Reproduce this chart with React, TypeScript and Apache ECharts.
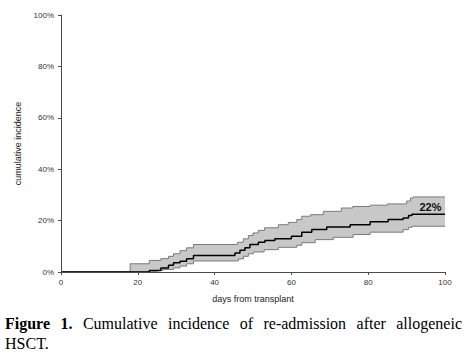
import React, { useEffect, useRef } from "react";
import * as echarts from "echarts";

const xTicks = [0, 20, 40, 60, 80, 100];
const upperDays = [0, 18, 23, 26, 28, 29.3, 31, 32.7, 34.5, 46, 47.5, 48.8, 50, 51.4, 53, 56.6, 59.2, 61.4, 62.7, 65, 68.3, 73, 76, 80.5, 85, 90, 91, 91.7, 100];
const upperPct = [0, 3.2, 4.5, 5.2, 6.1, 7.1, 8.3, 9.4, 10.7, 11.6, 12.9, 14.2, 15.2, 16.2, 17.2, 18.4, 19.3, 20.4, 21.7, 22.3, 23.6, 24.9, 25.5, 26.0, 26.5, 27.6, 28.8, 29.2, 29.2];
const mainDays = [0, 23, 26, 28, 29.3, 31, 32.7, 34.5, 45.3, 46.6, 47.9, 49.2, 51.4, 53.1, 55.7, 60, 62.7, 65.3, 69.2, 75.3, 80.5, 85.2, 89.1, 90.5, 91.4, 100];
const mainPct = [0, 0.6, 1.6, 2.6, 3.6, 4.2, 5.2, 6.4, 7.4, 8.5, 9.4, 10.7, 11.6, 12.3, 12.9, 13.9, 15.5, 16.5, 17.5, 18.4, 19.6, 20.4, 21.0, 22.0, 22.5, 22.5];
const lowerDays = [0, 25, 26.5, 29.3, 31, 32.7, 34.5, 46.2, 47.5, 48.8, 50.1, 52.9, 56.6, 61.4, 62.7, 66.2, 70.9, 76.1, 80.5, 89.1, 90.5, 91.4, 100];
const lowerPct = [0, 0.6, 1.0, 1.6, 2.3, 3.2, 4.3, 5.1, 6.1, 7.1, 7.8, 8.7, 9.6, 10.4, 11.4, 12.6, 13.5, 14.6, 15.5, 16.5, 17.4, 17.8, 17.8];
const endLabel = "22%";
const endLabelAt = [96.2, 25.3];
const captionBold = "Figure 1.";
const captionLine1 = "Cumulative incidence of re-admission after allogeneic";
const captionLine2 = "HSCT.";

const zip = (xs: number[], ys: number[]) => xs.map((x, i) => [x, ys[i]]);

export default function App() {
  const ref = useRef<HTMLDivElement>(null);
  useEffect(() => {
    if (!ref.current) return;
    const chart = echarts.init(ref.current, null, { renderer: "svg" });
    const axisFont = { fontFamily: "Liberation Sans, Arial, sans-serif", fontSize: 8, color: "#333" };
    chart.setOption({
      animation: false,
      backgroundColor: "#fff",
      grid: { left: 61, right: 21, top: 15, bottom: 84 },
      xAxis: {
        type: "value",
        min: 0,
        max: 100,
        interval: 20,
        z: 10,
        name: "days from transplant",
        nameLocation: "middle",
        nameGap: 22,
        nameTextStyle: { fontFamily: "Liberation Sans, Arial, sans-serif", fontSize: 9, color: "#222" },
        axisLine: { lineStyle: { color: "#4a4a4a", width: 1 } },
        axisTick: { length: 3, lineStyle: { color: "#4a4a4a" } },
        axisLabel: { ...axisFont, margin: 6, formatter: (v: number) => (xTicks.includes(v) ? String(v) : "") },
        splitLine: { show: false },
      },
      yAxis: {
        type: "value",
        min: 0,
        max: 100,
        interval: 20,
        z: 10,
        name: "cumulative incidence",
        nameLocation: "middle",
        nameGap: 37,
        nameTextStyle: { fontFamily: "Liberation Sans, Arial, sans-serif", fontSize: 9, color: "#222" },
        axisLine: { show: true, lineStyle: { color: "#4a4a4a", width: 1 } },
        axisTick: { show: true, length: 3, lineStyle: { color: "#4a4a4a" } },
        axisLabel: { ...axisFont, margin: 7, formatter: "{value}%" },
        splitLine: { show: false },
      },
      series: [
        {
          type: "line",
          step: "end",
          symbol: "none",
          data: zip(upperDays, upperPct),
          lineStyle: { color: "#7a7a7a", width: 1 },
          areaStyle: { color: "#c8c8c8", opacity: 1 },
          z: 1,
        },
        {
          type: "line",
          step: "end",
          symbol: "none",
          data: zip(lowerDays, lowerPct),
          lineStyle: { color: "#7a7a7a", width: 1 },
          areaStyle: { color: "#ffffff", opacity: 1 },
          z: 2,
        },
        {
          type: "line",
          step: "end",
          symbol: "none",
          data: zip(mainDays, mainPct),
          lineStyle: { color: "#000", width: 1.5 },
          z: 3,
          markPoint: {
            symbolSize: 0,
            data: [{ coord: endLabelAt, value: endLabel }],
            label: {
              show: true,
              position: "inside",
              formatter: endLabel,
              fontFamily: "Liberation Sans, Arial, sans-serif",
              fontWeight: "bold",
              fontSize: 11,
              color: "#111",
            },
          },
        },
      ],
    });
    return () => chart.dispose();
  }, []);
  const capStyle: React.CSSProperties = {
    position: "absolute",
    left: 5,
    width: 457,
    fontFamily: '"Liberation Serif", "Times New Roman", serif',
    fontSize: 16,
    lineHeight: "20px",
    color: "#000",
    whiteSpace: "nowrap",
  };
  return (
    <div style={{ position: "fixed", left: 0, top: 0, width: 466, height: 356, background: "#fff" }}>
      <div ref={ref} style={{ position: "absolute", left: 0, top: 0, width: 466, height: 356 }} />
      <div style={{ ...capStyle, top: 314, textAlign: "justify", textAlignLast: "justify", whiteSpace: "normal" }}>
        <b>{captionBold}</b> <span>{captionLine1}</span>
      </div>
      <div style={{ ...capStyle, top: 334 }}>
        <span>{captionLine2}</span>
      </div>
    </div>
  );
}
